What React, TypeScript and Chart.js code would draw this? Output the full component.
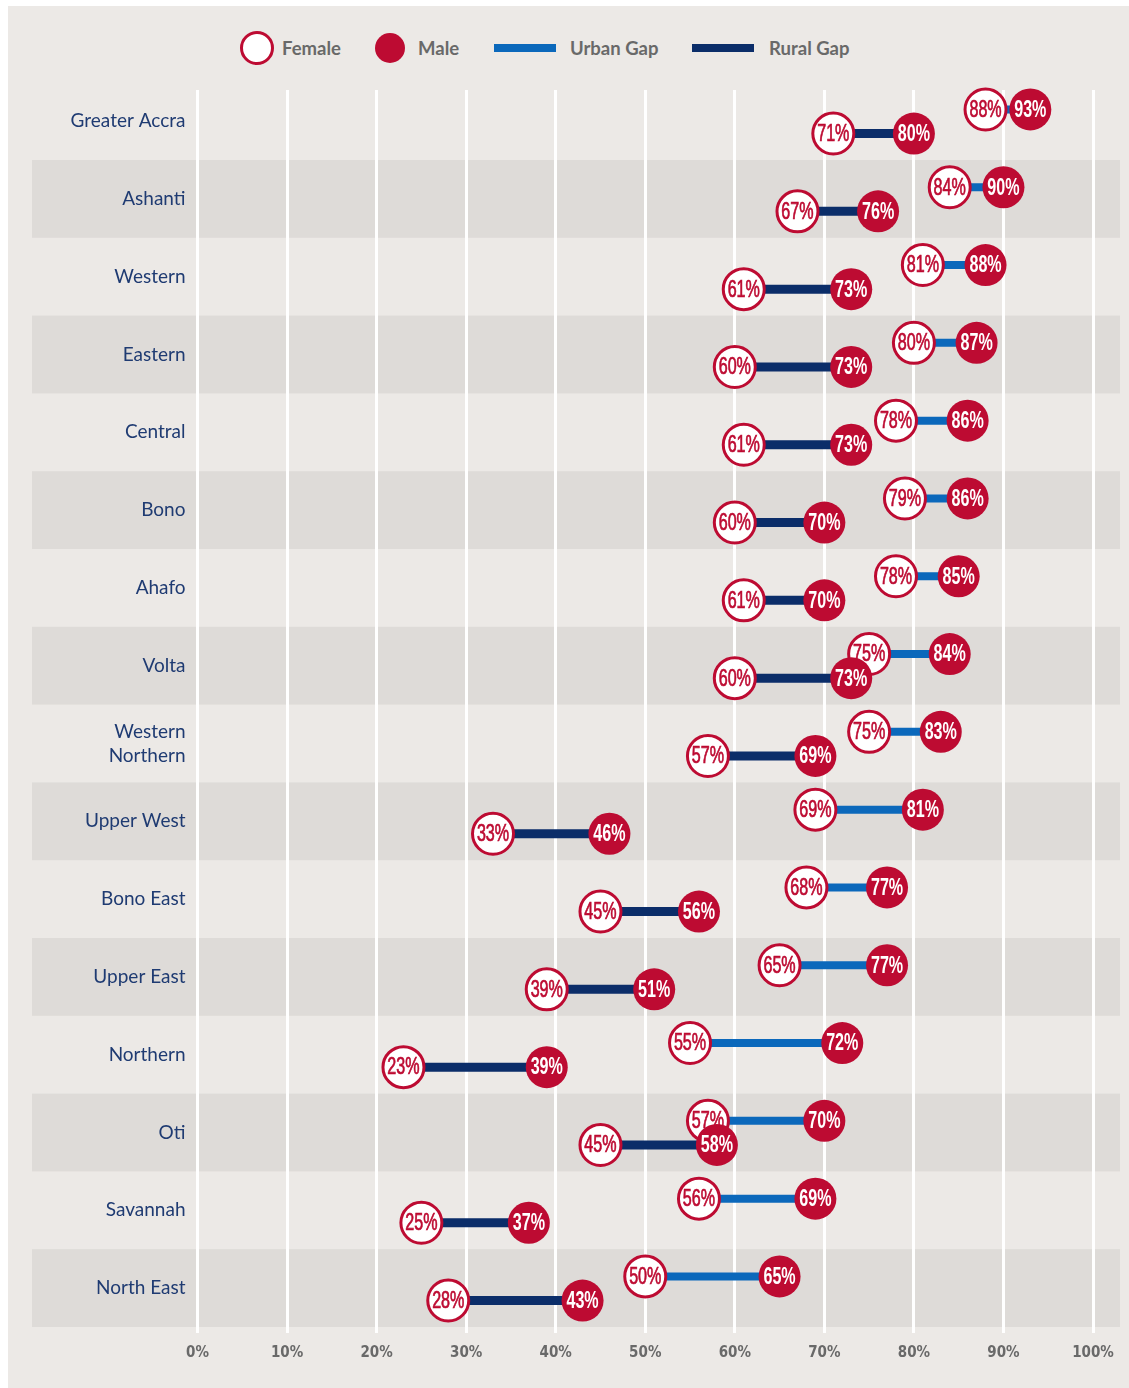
import React, { useEffect, useRef } from "react";
import { Chart, registerables } from "chart.js";

Chart.register(...registerables);

// ---------- data ----------
const categories: (string | string[])[] = [
  "Greater Accra",
  "Ashanti",
  "Western",
  "Eastern",
  "Central",
  "Bono",
  "Ahafo",
  "Volta",
  ["Western", "Northern"],
  "Upper West",
  "Bono East",
  "Upper East",
  "Northern",
  "Oti",
  "Savannah",
  "North East",
];
const urbanFemale = [88, 84, 81, 80, 78, 79, 78, 75, 75, 69, 68, 65, 55, 57, 56, 50];
const urbanMale = [93, 90, 88, 87, 86, 86, 85, 84, 83, 81, 77, 77, 72, 70, 69, 65];
const ruralFemale = [71, 67, 61, 60, 61, 60, 61, 60, 57, 33, 45, 39, 23, 45, 25, 28];
const ruralMale = [80, 76, 73, 73, 73, 70, 70, 73, 69, 46, 56, 51, 39, 58, 37, 43];
const xTicks = [0, 10, 20, 30, 40, 50, 60, 70, 80, 90, 100];

// ---------- style ----------
const RED = "#bd0b32";
const URBAN = "#0b68bb";
const RURAL = "#0b2d69";
const NAVY_TEXT = "#1f3b72";
const GRAY_TEXT = "#696969";
const BG = "#ece9e6";
const BAND = "#dedbd8";
const URBAN_OFFSET = -0.15;
const RURAL_OFFSET = 0.16;

const points = (vals: number[], off: number) => vals.map((v, i) => ({ x: v, y: i + off }));
const gapLine = (f: number[], m: number[], off: number) =>
  f.flatMap((v, i) => [
    { x: v, y: i + off },
    { x: m[i], y: i + off },
    { x: null as any, y: null as any },
  ]);

const bandsPlugin = {
  id: "bands",
  beforeDraw(chart: any) {
    const { ctx, scales } = chart;
    const y = scales.y;
    ctx.save();
    ctx.fillStyle = BAND;
    for (let i = 1; i < categories.length; i += 2) {
      const a = y.getPixelForValue(i - 0.5);
      const b = y.getPixelForValue(i + 0.5);
      ctx.fillRect(24, Math.min(a, b), 1088, Math.abs(b - a));
    }
    ctx.restore();
  },
};

const labelPlugin = {
  id: "circleLabels",
  afterDatasetDraw(chart: any, args: any) {
    const ds: any = chart.data.datasets[args.index];
    if (!ds.labelColor) return;
    const ctx = chart.ctx;
    ctx.save();
    ctx.font = `${ds.labelWeight} 23px 'Liberation Sans', Arial, sans-serif`;
    ctx.fillStyle = ds.labelColor;
    ctx.strokeStyle = ds.labelColor;
    ctx.lineWidth = ds.labelStroke;
    ctx.textAlign = "center";
    ctx.textBaseline = "middle";
    args.meta.data.forEach((el: any, i: number) => {
      const v = ds.data[i].x;
      ctx.save();
      ctx.translate(el.x, el.y + 1);
      ctx.scale(0.7, 1);
      ctx.fillText(v + "%", 0, 0);
      if (ds.labelStroke > 0) ctx.strokeText(v + "%", 0, 0);
      ctx.restore();
    });
    ctx.restore();
  },
};

export default function App() {
  const ref = useRef<HTMLCanvasElement | null>(null);

  useEffect(() => {
    if (!ref.current) return;
    const chart = new Chart(ref.current, {
      type: "scatter",
      data: {
        datasets: [
          {
            label: "Urban Gap",
            data: gapLine(urbanFemale, urbanMale, URBAN_OFFSET),
            showLine: true,
            borderColor: URBAN,
            borderWidth: 8,
            borderCapStyle: "butt",
            pointRadius: 0,
            pointHoverRadius: 0,
            spanGaps: false,
            order: 3,
            clip: false,
          } as any,
          {
            label: "Rural Gap",
            data: gapLine(ruralFemale, ruralMale, RURAL_OFFSET),
            showLine: true,
            borderColor: RURAL,
            borderWidth: 9,
            borderCapStyle: "butt",
            pointRadius: 0,
            pointHoverRadius: 0,
            spanGaps: false,
            order: 3,
            clip: false,
          } as any,
          {
            label: "Female",
            data: [...points(urbanFemale, URBAN_OFFSET), ...points(ruralFemale, RURAL_OFFSET)],
            pointRadius: 20.5,
            pointHoverRadius: 20.5,
            pointBorderWidth: 3,
            pointHoverBorderWidth: 3,
            backgroundColor: "#ffffff",
            borderColor: RED,
            labelColor: RED,
            labelWeight: "normal",
            labelStroke: 0.7,
            order: 2,
            clip: false,
          } as any,
          {
            label: "Male",
            data: [...points(urbanMale, URBAN_OFFSET), ...points(ruralMale, RURAL_OFFSET)],
            pointRadius: 21,
            pointHoverRadius: 21,
            pointBorderWidth: 0,
            backgroundColor: RED,
            borderColor: RED,
            labelColor: "#ffffff",
            labelWeight: "bold",
            labelStroke: 0,
            order: 1,
            clip: false,
          } as any,
        ],
      },
      options: {
        animation: false,
        responsive: false,
        events: [],
        layout: { padding: { top: 84, right: 36, left: 0, bottom: 0 } },
        plugins: {
          legend: { display: false },
          tooltip: { enabled: false },
        },
        scales: {
          x: {
            type: "linear",
            min: 0,
            max: 100,
            afterBuildTicks: (s: any) => {
              s.ticks = xTicks.map((v) => ({ value: v }));
            },
            afterFit: (s: any) => {
              s.height = 61;
            },
            grid: { color: "#ffffff", lineWidth: 3, drawTicks: true, tickLength: 6 },
            border: { display: false },
            ticks: {
              callback: (v: any) => v + "%",
              color: GRAY_TEXT,
              font: { family: "'DejaVu Sans Condensed', 'DejaVu Sans', sans-serif", weight: "bold", size: 15 },
              padding: 11,
              maxRotation: 0,
              autoSkip: false,
            },
          },
          y: {
            type: "linear",
            reverse: true,
            min: -0.4,
            max: 15.5,
            afterBuildTicks: (s: any) => {
              s.ticks = categories.map((_, i) => ({ value: i }));
            },
            afterFit: (s: any) => {
              s.width = 189.5;
            },
            grid: { display: false, drawTicks: false, tickLength: 0 },
            border: { display: false },
            ticks: {
              callback: (v: any) => categories[v as number],
              color: NAVY_TEXT,
              font: { family: "Lato, 'Open Sans', sans-serif", size: 19, lineHeight: 1.25 },
              padding: 12,
              autoSkip: false,
            },
          },
        },
      } as any,
      plugins: [bandsPlugin, labelPlugin],
    });
    return () => chart.destroy();
  }, []);

  const legendText: React.CSSProperties = {
    position: "absolute",
    top: 30,
    height: 24,
    lineHeight: "24px",
    fontFamily: "Lato, 'Open Sans', sans-serif",
    fontWeight: 700,
    fontSize: 18.5,
    color: GRAY_TEXT,
    whiteSpace: "nowrap",
  };

  return (
    <div
      style={{
        position: "absolute",
        left: 8,
        top: 6,
        width: 1121,
        height: 1382,
        background: BG,
        overflow: "hidden",
      }}
    >
      <div
        style={{
          position: "absolute",
          left: 232,
          top: 25,
          width: 34,
          height: 34,
          boxSizing: "border-box",
          borderRadius: "50%",
          border: `3px solid ${RED}`,
          background: "#fff",
        }}
      />
      <div style={{ ...legendText, left: 274 }}>Female</div>
      <div
        style={{
          position: "absolute",
          left: 367,
          top: 27,
          width: 30,
          height: 30,
          borderRadius: "50%",
          background: RED,
        }}
      />
      <div style={{ ...legendText, left: 410 }}>Male</div>
      <div style={{ position: "absolute", left: 486, top: 38, width: 62, height: 8, background: URBAN }} />
      <div style={{ ...legendText, left: 562 }}>Urban Gap</div>
      <div style={{ position: "absolute", left: 684, top: 38, width: 62, height: 8, background: RURAL }} />
      <div style={{ ...legendText, left: 761 }}>Rural Gap</div>
      <canvas ref={ref} width={1121} height={1382} style={{ position: "absolute", left: 0, top: 0, display: "block" }} />
    </div>
  );
}
